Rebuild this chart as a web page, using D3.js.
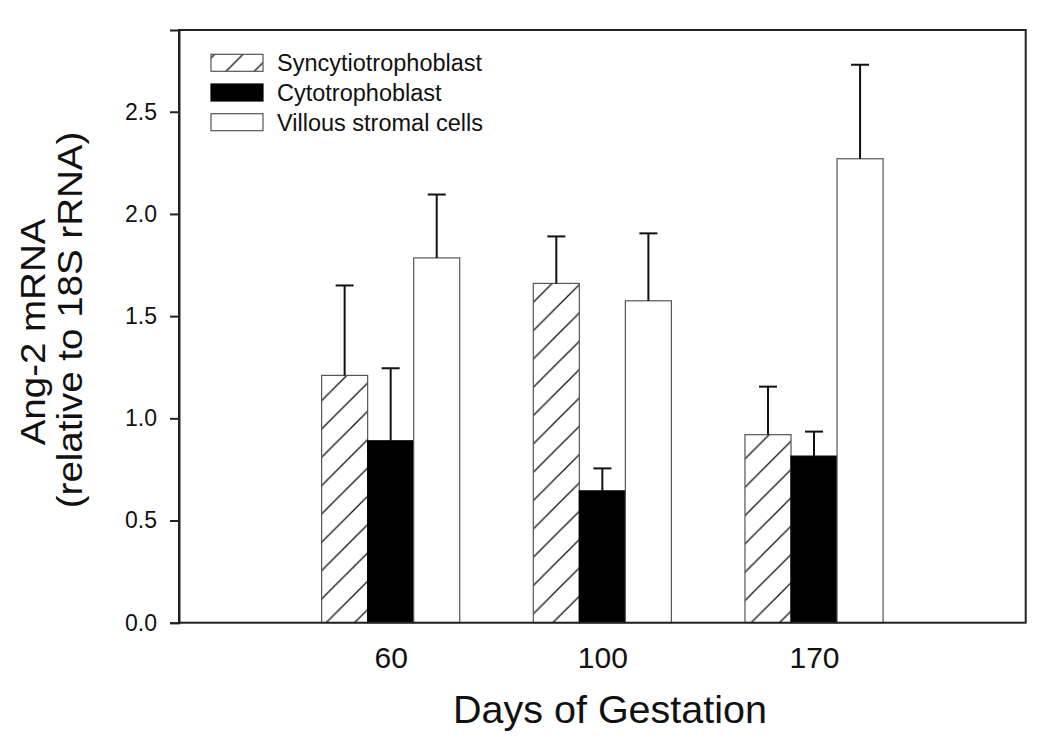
<!DOCTYPE html>
<html>
<head>
<meta charset="utf-8">
<script src="https://cdn.jsdelivr.net/npm/d3@7"></script>
<style>
  html, body { margin: 0; padding: 0; background: #fff; }
  svg { display: block; font-family: "Liberation Sans", Arial, Helvetica, sans-serif; }
</style>
</head>
<body>
<svg id="chart" width="1050" height="750"></svg>
<script>
// ---- data ----
const categories = ["60", "100", "170"];
const seriesNames = ["Syncytiotrophoblast", "Cytotrophoblast", "Villous stromal cells"];
const syncytioMeans = [1.21, 1.66, 0.92];
const syncytioErr = [0.44, 0.23, 0.235];
const cytoMeans = [0.89, 0.645, 0.815];
const cytoErr = [0.355, 0.11, 0.12];
const villousMeans = [1.785, 1.575, 2.27];
const villousErr = [0.31, 0.33, 0.46];
const yTicks = [0, 0.5, 1.0, 1.5, 2.0, 2.5];
const yTitleLines = ["Ang-2 mRNA", "(relative to 18S rRNA)"];
const xTitle = "Days of Gestation";

(function () {
const series = [
  { name: seriesNames[0], means: syncytioMeans, errs: syncytioErr, fill: "url(#hatch)" },
  { name: seriesNames[1], means: cytoMeans, errs: cytoErr, fill: "#000" },
  { name: seriesNames[2], means: villousMeans, errs: villousErr, fill: "#fff" }
];

// ---- layout ----
const pL = 179, pR = 1025.7, pT = 30, pB = 622.7;
const svg = d3.select("#chart");

const x = d3.scaleLinear().domain([0, 4]).range([pL, pR]);
const y = d3.scaleLinear().domain([0, 2.9]).range([pB, pT]);
const barW = 0.2175; // in x units

// hatch pattern
const defs = svg.append("defs");
const P = 28.33;
const pat = defs.append("pattern")
  .attr("id", "hatch")
  .attr("patternUnits", "userSpaceOnUse")
  .attr("width", P).attr("height", P)
  .attr("patternTransform", "translate(14,0)");
pat.append("rect").attr("width", P).attr("height", P).attr("fill", "#fff");
pat.append("path")
  .attr("d", `M0,${P} L${P},0 M-2,2 L2,-2 M${P-2},${P+2} L${P+2},${P-2}`)
  .attr("stroke", "#111").attr("stroke-width", 1.3);

// bars
series.forEach((s, si) => {
  const g = svg.append("g");
  categories.forEach((c, ci) => {
    const cx = ci + 1;
    const x0 = cx + (si - 1.5) * barW;
    const x1 = x0 + barW;
    g.append("rect")
      .attr("x", x(x0)).attr("width", x(x1) - x(x0))
      .attr("y", y(s.means[ci])).attr("height", y(0) - y(s.means[ci]))
      .attr("fill", s.fill)
      .attr("stroke", si === 1 ? "#000" : "#555")
      .attr("stroke-width", 1.2);
    // error bar (upper only)
    const xm = x(x0 + barW / 2);
    const yt = y(s.means[ci] + s.errs[ci]);
    g.append("line")
      .attr("x1", xm).attr("x2", xm)
      .attr("y1", y(s.means[ci])).attr("y2", yt)
      .attr("stroke", "#111").attr("stroke-width", 2);
    g.append("line")
      .attr("x1", xm - 9).attr("x2", xm + 9)
      .attr("y1", yt).attr("y2", yt)
      .attr("stroke", "#111").attr("stroke-width", 2);
  });
});

// frame
svg.append("rect")
  .attr("x", pL).attr("y", pT)
  .attr("width", pR - pL).attr("height", pB - pT)
  .attr("fill", "none").attr("stroke", "#222").attr("stroke-width", 2);

// y axis
const yAxis = d3.axisLeft(y).tickValues(yTicks).tickSize(9).tickPadding(13)
  .tickFormat(d3.format(".1f"));
const ya = svg.append("g").attr("transform", `translate(${pL},0)`).call(yAxis);
ya.select(".domain").attr("stroke", "#222").attr("stroke-width", 2);
ya.selectAll(".tick line").attr("stroke", "#222").attr("stroke-width", 2);
ya.selectAll(".tick text")
  .attr("font-size", "23px").attr("fill", "#111")
  .attr("font-family", "Liberation Sans, Arial, sans-serif");

// x axis labels (no tick marks)
const xAxis = d3.axisBottom(x).tickValues([1, 2, 3]).tickSize(0).tickPadding(0)
  .tickFormat((d, i) => categories[i]);
const xa = svg.append("g").attr("transform", `translate(0,${pB})`).call(xAxis);
xa.select(".domain").remove();
xa.selectAll(".tick text")
  .attr("font-size", "30px").attr("fill", "#111")
  .attr("font-family", "Liberation Sans, Arial, sans-serif")
  .attr("dy", null).attr("y", 45.5);

// x title
svg.append("text")
  .attr("x", 610).attr("y", 722.7)
  .attr("text-anchor", "middle")
  .attr("font-size", "39.5px").attr("fill", "#111")
  .text(xTitle);

// y title (two lines)
const yTitlePos = [[45, 332], [82, 320]];
yTitleLines.forEach((t, i) => {
  svg.append("text")
    .attr("transform", `translate(${yTitlePos[i][0]},${yTitlePos[i][1]}) rotate(-90) scale(1.1,1)`)
    .attr("text-anchor", "middle")
    .attr("font-size", "35px").attr("fill", "#111")
    .text(t);
});

// legend
const legRows = [62.8, 92.5, 122.2];
series.forEach((s, i) => {
  svg.append("rect")
    .attr("x", 211).attr("y", legRows[i] - 8.5)
    .attr("width", 52).attr("height", 17)
    .attr("fill", s.fill)
    .attr("stroke", i === 1 ? "#000" : "#555").attr("stroke-width", 1.2);
  svg.append("text")
    .attr("x", 277).attr("y", legRows[i] + 8.5)
    .attr("font-size", "23.5px").attr("fill", "#111")
    .text(s.name);
});
})();
</script>
</body>
</html>
